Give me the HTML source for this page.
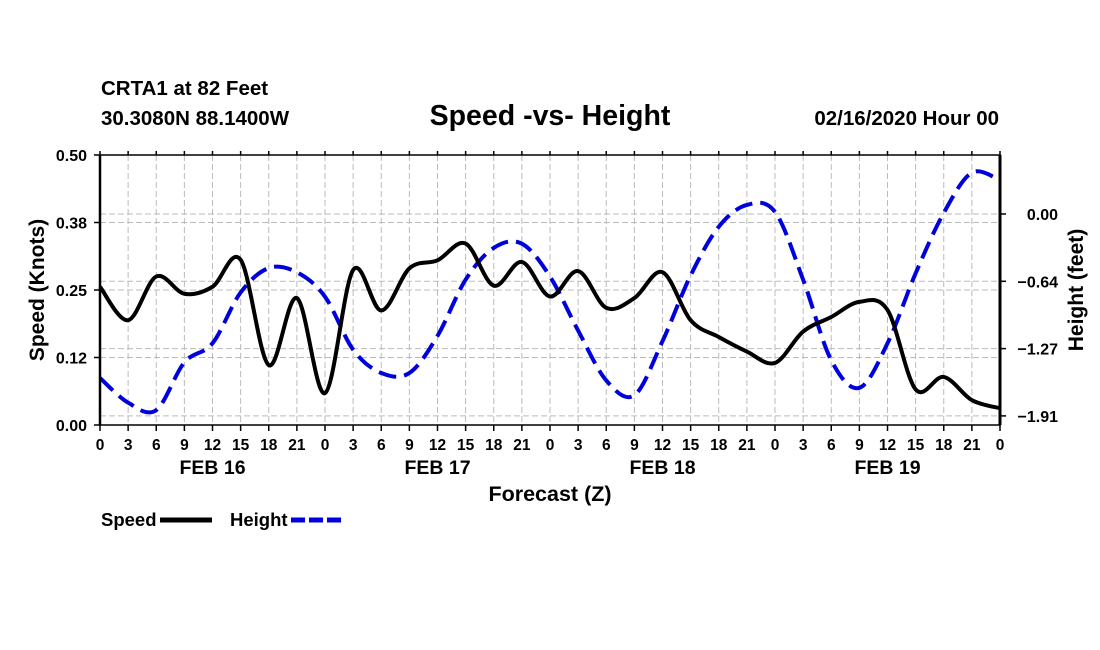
<!DOCTYPE html>
<html><head><meta charset="utf-8"><style>
html,body{margin:0;padding:0;background:#fff;}
svg{display:block;font-family:"Liberation Sans",Arial,sans-serif;font-weight:bold;}
</style></head><body>
<svg id="c" width="1100" height="650" viewBox="0 0 1100 650">
<text x="101" y="95" font-size="20.5">CRTA1 at 82 Feet</text>
<text x="101" y="125" font-size="20.5">30.3080N 88.1400W</text>
<text x="550" y="125" font-size="28.5" text-anchor="middle">Speed -vs- Height</text>
<text x="999" y="125" font-size="20.5" text-anchor="end">02/16/2020 Hour 00</text>
<g id="grid"></g>
<g id="series"></g>
<g id="axes"></g>
<text x="550" y="501" font-size="21.5" text-anchor="middle">Forecast (Z)</text>
<text transform="translate(44,290) rotate(-90)" font-size="21" text-anchor="middle">Speed (Knots)</text>
<text transform="translate(1083,290) rotate(-90)" font-size="21" text-anchor="middle">Height (feet)</text>
<g>
<text x="101" y="526" font-size="18.5">Speed</text>
<line x1="160" y1="520" x2="212" y2="520" stroke="#000" stroke-width="5"/>
<text x="230" y="526" font-size="18.5">Height</text>
<line x1="291" y1="520" x2="342" y2="520" stroke="#0000dd" stroke-width="5" stroke-dasharray="14,4"/>
</g>
</svg>
<script>
const hours = [0,3,6,9,12,15,18,21,24,27,30,33,36,39,42,45,48,51,54,57,60,63,66,69,72,75,78,81,84,87,90,93,96];
const speed = [0.256,0.194,0.275,0.243,0.256,0.306,0.111,0.235,0.059,0.287,0.212,0.29,0.305,0.336,0.258,0.302,0.238,0.285,0.217,0.235,0.283,0.194,0.163,0.136,0.115,0.173,0.2,0.228,0.213,0.066,0.089,0.046,0.031];
const height = [-1.547,-1.78,-1.85,-1.40,-1.22,-0.74,-0.51,-0.55,-0.78,-1.28,-1.50,-1.50,-1.15,-0.62,-0.32,-0.28,-0.59,-1.10,-1.57,-1.71,-1.20,-0.58,-0.12,0.085,0.02,-0.62,-1.38,-1.64,-1.22,-0.56,0.01,0.39,0.32];
const xTickLabels = ["0","3","6","9","12","15","18","21"];
const dayLabels = ["FEB 16","FEB 17","FEB 18","FEB 19"];
const leftTicks = [0,0.125,0.25,0.375,0.5];
const leftTickLabels = ["0.00","0.12","0.25","0.38","0.50"];
const rightTicks = [0,-0.635,-1.27,-1.905];
const rightTickLabels = ["0.00","\u22120.64","\u22121.27","\u22121.91"];

const L=100,R=1000,T=155,B=425;
const x = h => L + (h/96)*(R-L);
const yS = v => B - (v/0.5)*(B-T);
const yH = v => 214 - v*(67.3/0.635);
const NS="http://www.w3.org/2000/svg";
function mk(tag, parent, attrs){const e=document.createElementNS(NS,tag);for(const k in attrs)e.setAttribute(k,attrs[k]);parent.appendChild(e);return e;}
const grid=document.getElementById('grid'), axes=document.getElementById('axes'), series=document.getElementById('series');
for(let h=3;h<96;h+=3){const g=mk('line',grid,{x1:x(h),x2:x(h),y1:T,y2:B,stroke:'#bbb','stroke-width':1,'stroke-dasharray':'6,3'});

}
leftTicks.slice(1,4).forEach(v=>{const g=mk('line',grid,{x1:L,x2:R,y1:yS(v),y2:yS(v),stroke:'#bbb','stroke-width':1,'stroke-dasharray':'6,3'});

});
rightTicks.forEach(v=>{const g=mk('line',grid,{x1:L,x2:R,y1:yH(v),y2:yH(v),stroke:'#bbb','stroke-width':1,'stroke-dasharray':'6,3'});

});
function path(vals, yf){
  const p=hours.map((h,i)=>[x(h),yf(vals[i])]);
  let d=`M${p[0][0]},${p[0][1]}`;
  for(let i=0;i<p.length-1;i++){
    const p0=p[i-1]||p[i],p1=p[i],p2=p[i+1],p3=p[i+2]||p2;
    const c1=[p1[0]+(p2[0]-p0[0])/6,p1[1]+(p2[1]-p0[1])/6];
    const c2=[p2[0]-(p3[0]-p1[0])/6,p2[1]-(p3[1]-p1[1])/6];
    d+=` C${c1[0]},${c1[1]} ${c2[0]},${c2[1]} ${p2[0]},${p2[1]}`;
  }
  return d;
}
const hp=mk('path',series,{d:path(height,yH),fill:'none',stroke:'#0000dd','stroke-width':4,'stroke-dasharray':'18,8'});


const sp=mk('path',series,{d:path(speed,yS),fill:'none',stroke:'#000','stroke-width':4,'stroke-linejoin':'round'});


const fr=mk('rect',axes,{x:L,y:T,width:R-L,height:B-T,fill:'none',stroke:'#000','stroke-width':1.5});


const la=mk('line',axes,{x1:L,x2:L,y1:T,y2:B,stroke:'#000','stroke-width':2.5});


const ra=mk('line',axes,{x1:R,x2:R,y1:T,y2:B,stroke:'#000','stroke-width':3});


for(let h=0;h<=96;h+=3){
  const t=mk('line',axes,{x1:x(h),x2:x(h),y1:B,y2:B+6,stroke:'#000','stroke-width':1.5});
  
  
  const t2=mk('line',axes,{x1:x(h),x2:x(h),y1:T-4,y2:T,stroke:'#000','stroke-width':1.5});
  
  
  const tl=mk('text',axes,{x:x(h),y:B+25,'font-size':15.5,'text-anchor':'middle'});
  tl.textContent = h===96 ? "0" : xTickLabels[(h%24)/3];
  
  
}
dayLabels.forEach((d,i)=>{const t=mk('text',axes,{x:x(12+24*i),y:B+49,'font-size':19.5,'text-anchor':'middle'});t.textContent=d;

});
leftTicks.forEach((v,i)=>{
  const t=mk('line',axes,{x1:L-6,x2:L,y1:yS(v),y2:yS(v),stroke:'#000','stroke-width':1.5});
  
  
  const tl=mk('text',axes,{x:L-13,y:yS(v)+6,'font-size':16,'text-anchor':'end'});tl.textContent=leftTickLabels[i];
  
  
});
rightTicks.forEach((v,i)=>{
  const t=mk('line',axes,{x1:R,x2:R+6,y1:yH(v),y2:yH(v),stroke:'#000','stroke-width':1.5});
  
  
  const tl=mk('text',axes,{x:R+58,y:yH(v)+6,'font-size':16,'text-anchor':'end'});tl.textContent=rightTickLabels[i];
  
  
});
</script>
</body></html>
